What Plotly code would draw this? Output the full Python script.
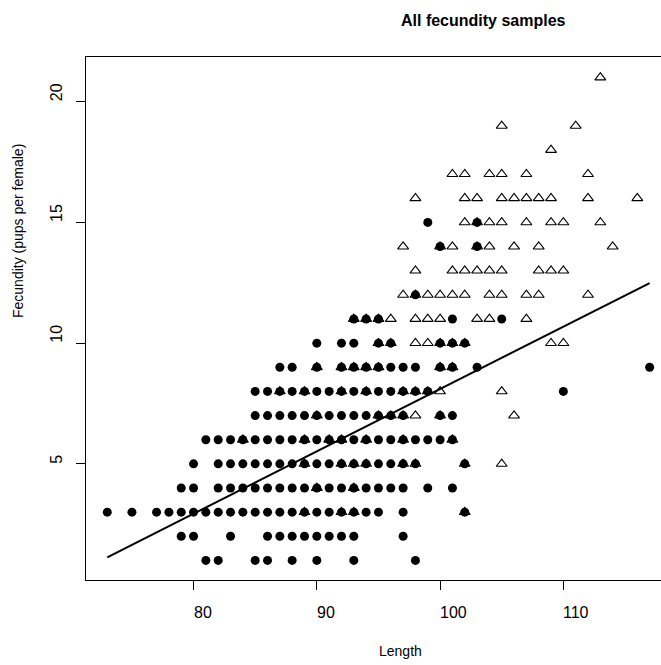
import plotly.graph_objects as go

# Filled-circle sample (length, fecundity)
circle_len = [81, 82, 85, 86, 88, 90, 93, 98,
              79, 80, 83, 86, 87, 88, 89, 90, 91, 92, 93, 97,
              73, 75, 77, 78, 79, 80, 81, 82, 83, 84, 85, 86, 87, 88, 89, 90, 91, 92, 93, 94, 95, 97, 102,
              79, 80, 82, 83, 84, 85, 86, 87, 88, 89, 90, 91, 92, 93, 94, 95, 96, 97, 99, 101,
              80, 82, 83, 84, 85, 86, 87, 88, 89, 90, 91, 92, 93, 94, 95, 96, 97, 98, 102,
              81, 82, 83, 84, 85, 86, 87, 88, 89, 90, 91, 92, 93, 94, 95, 96, 97, 98, 99, 100, 101,
              85, 86, 87, 88, 89, 90, 91, 92, 93, 94, 95, 96, 97, 100, 101,
              85, 86, 87, 88, 89, 90, 91, 92, 93, 94, 95, 96, 97, 98, 99, 110,
              87, 88, 90, 92, 93, 94, 95, 96, 97, 98, 100, 101, 103, 117,
              90, 92, 93, 95, 96, 100, 101, 102,
              93, 94, 95, 101, 105,
              98,
              100, 103,
              99, 103]
circle_fec = [1] * 8 + [2] * 12 + [3] * 23 + [4] * 20 + [5] * 19 + [6] * 21 + [7] * 15 + \
             [8] * 16 + [9] * 14 + [10] * 8 + [11] * 5 + [12] * 1 + [14] * 2 + [15] * 2

# Open-triangle sample (length, fecundity)
tri_len = [89, 92, 93, 102,
           90, 93,
           89, 92, 93, 94, 97, 98, 102, 105,
           84, 89, 91, 92, 94, 97, 101,
           90, 95, 96, 97, 98, 100, 106,
           87, 89, 92, 94, 97, 98, 99, 100, 105,
           90, 92, 93, 94, 95, 100, 101,
           95, 96, 98, 99, 100, 101, 102, 109, 110,
           93, 94, 95, 96, 98, 99, 100, 103, 104, 107,
           97, 98, 99, 100, 101, 102, 104, 105, 107, 108, 112,
           98, 101, 102, 103, 104, 105, 108, 109, 110,
           97, 100, 101, 103, 104, 106, 108, 114,
           102, 103, 104, 105, 107, 109, 110, 113,
           98, 102, 103, 105, 106, 107, 108, 109, 112, 116,
           101, 102, 104, 105, 107, 112,
           109,
           105, 111,
           113]
tri_fec = [3] * 4 + [4] * 2 + [5] * 8 + [6] * 7 + [7] * 7 + [8] * 9 + [9] * 7 + [10] * 9 + \
          [11] * 10 + [12] * 11 + [13] * 9 + [14] * 8 + [15] * 8 + [16] * 10 + [17] * 6 + \
          [18] * 1 + [19] * 2 + [21] * 1

# Fitted regression line
fit_intercept = -17.72
fit_slope = 0.2582
fit_range = [73, 117]

x_ticks = [80, 90, 100, 110]
y_ticks = [5, 10, 15, 20]

FONT = "Liberation Sans, Arial, sans-serif"
W, H = 661, 665
L, R, T, B = 86, 0, 57, 85
PW, PH = W - L - R, H - T - B


def px_x(px):
    return (px - L) / PW


def px_y(py):
    return (H - B - py) / PH


fig = go.Figure()
fig.add_trace(go.Scatter(
    x=circle_len, y=circle_fec, mode="markers",
    marker=dict(symbol="circle", size=9, color="black", line=dict(width=0)),
    showlegend=False, hoverinfo="skip"))
fig.add_trace(go.Scatter(
    x=tri_len, y=tri_fec, mode="markers",
    marker=dict(symbol="triangle-up-open", size=9.5, color="black", line=dict(width=1.1, color="black")),
    showlegend=False, hoverinfo="skip"))
fig.add_trace(go.Scatter(
    x=fit_range, y=[fit_intercept + fit_slope * v for v in fit_range], mode="lines",
    line=dict(color="black", width=2), showlegend=False, hoverinfo="skip"))

annotations = []
for v in x_ticks:
    annotations.append(dict(text=str(v), xref="x", yref="paper", x=v, y=px_y(603),
                            xanchor="left", yanchor="top", showarrow=False,
                            font=dict(size=16), borderpad=0, xshift=-1))
for v in y_ticks:
    annotations.append(dict(text=str(v), xref="paper", yref="y", x=px_x(66), y=v,
                            xanchor="right", yanchor="bottom", textangle=-90,
                            showarrow=False, font=dict(size=16), borderpad=0, yshift=-1))
annotations += [
    dict(text="<b>All fecundity samples</b>", xref="paper", yref="paper",
         x=px_x(400), y=px_y(21), xanchor="left", yanchor="middle",
         showarrow=False, font=dict(size=16), borderpad=0),
    dict(text="Length", xref="paper", yref="paper", x=px_x(378), y=px_y(651),
         xanchor="left", yanchor="middle", showarrow=False, font=dict(size=14), borderpad=0),
    dict(text="Fecundity (pups per female)", xref="paper", yref="paper",
         x=px_x(18), y=px_y(319), xanchor="center", yanchor="bottom", textangle=-90,
         showarrow=False, font=dict(size=14), borderpad=0),
]

fig.update_layout(
    width=W, height=H,
    margin=dict(l=L, r=R, t=T, b=B, pad=0),
    paper_bgcolor="white", plot_bgcolor="white",
    font=dict(family=FONT, size=16, color="black"),
    xaxis=dict(range=[71.275, 117.92], tickvals=x_ticks, showticklabels=False,
               ticks="outside", ticklen=9, tickwidth=1, tickcolor="black",
               showline=True, linecolor="black", linewidth=1, mirror=True,
               showgrid=False, zeroline=False),
    yaxis=dict(range=[0.19, 21.85], tickvals=y_ticks, showticklabels=False,
               ticks="outside", ticklen=9, tickwidth=1, tickcolor="black",
               showline=True, linecolor="black", linewidth=1, mirror=False,
               showgrid=False, zeroline=False),
    annotations=annotations,
)

fig.write_html("out.html")
